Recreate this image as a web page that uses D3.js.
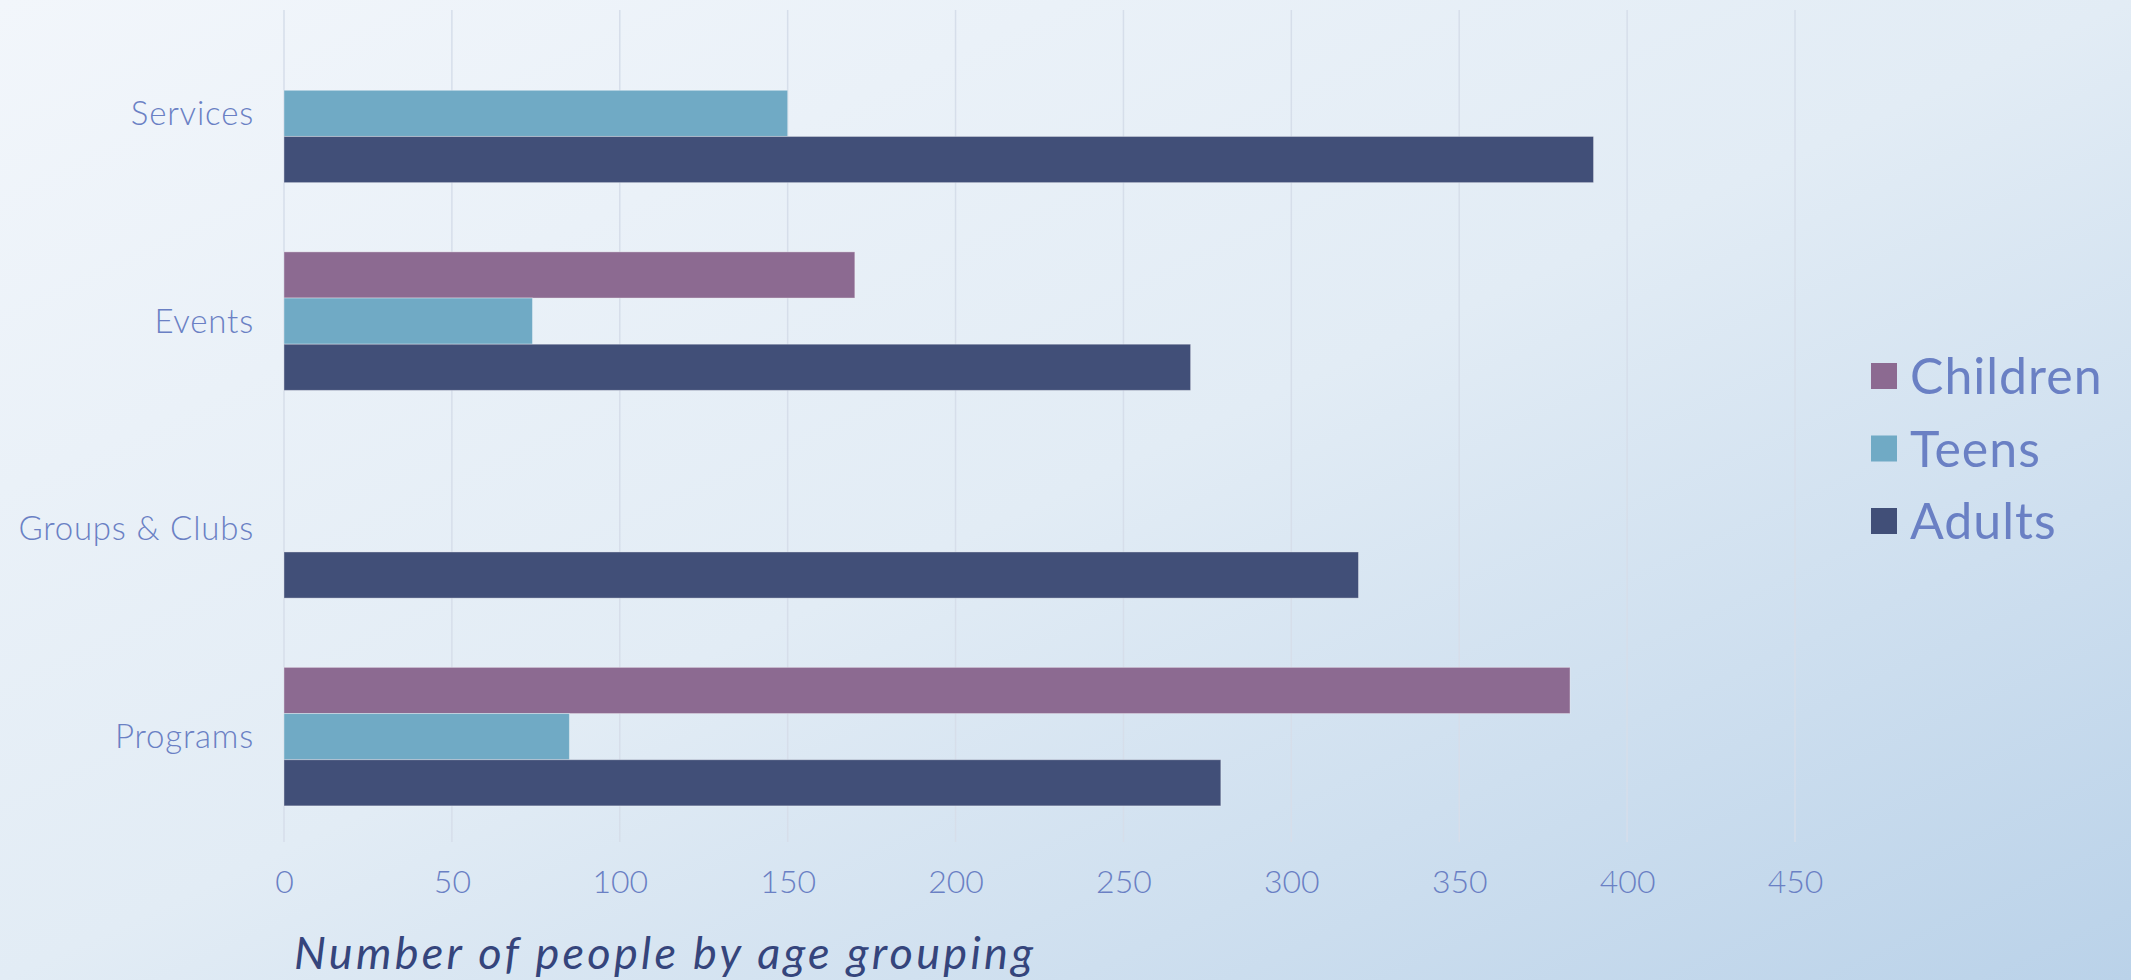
<!DOCTYPE html>
<html><head><meta charset="utf-8">
<script src="https://cdn.jsdelivr.net/npm/d3@7/dist/d3.min.js"></script>
<style>html,body{margin:0;padding:0;overflow:hidden;}svg{display:block;}</style>
</head><body>
<svg id="chart" width="2131" height="980"></svg>
<script>
const categories = ["Services", "Events", "Groups & Clubs", "Programs"];
const seriesNames = ["Children", "Teens", "Adults"];
const children = [0, 170, 0, 383];
const teens = [150, 74, 0, 85];
const adults = [390, 270, 320, 279];
const xTicks = [0, 50, 100, 150, 200, 250, 300, 350, 400, 450];
const axisTitle = "Number of people by age grouping";
const colors = ["#8c6a91", "#70aac5", "#414f78"];

const W = 2131, H = 980;
const svg = d3.select("#chart");
const defs = svg.append("defs");
const grad = defs.append("linearGradient").attr("id", "bg")
  .attr("x1", "0").attr("y1", "0").attr("x2", "1").attr("y2", "1");
grad.append("stop").attr("offset", "0").attr("stop-color", "#f2f6fb");
grad.append("stop").attr("offset", "0.5").attr("stop-color", "#e2ecf5");
grad.append("stop").attr("offset", "1").attr("stop-color", "#bad2e9");
svg.append("rect").attr("width", W).attr("height", H).attr("fill", "url(#bg)");

const font = "'Lato', 'Open Sans', sans-serif";
const textColor = "#6a80c4";

const x = d3.scaleLinear().domain([0, 450]).range([284, 1795]);
const y = d3.scaleBand().domain(categories).range([9.5, 840.5]).paddingInner(1/3).paddingOuter(1/6);
const ySub = d3.scaleBand().domain(seriesNames).range([0, y.bandwidth()]);

// gridlines
svg.append("g").selectAll("line").data(xTicks).join("line")
  .attr("x1", d => x(d)).attr("x2", d => x(d))
  .attr("y1", 10).attr("y2", 842)
  .attr("stroke", "#d6deea").attr("stroke-width", 1.5);

// bars
const values = [children, teens, adults];
const rows = [];
categories.forEach((c, i) => seriesNames.forEach((s, j) => rows.push({c, s, v: values[j][i], j})));
svg.append("g").selectAll("rect").data(rows.filter(d => d.v > 0)).join("rect")
  .attr("x", x(0)).attr("y", d => y(d.c) + ySub(d.s))
  .attr("width", d => x(d.v) - x(0)).attr("height", ySub.bandwidth())
  .attr("fill", d => colors[d.j])
  .attr("stroke", "#ffffff").attr("stroke-opacity", 0.35).attr("stroke-width", 1);

// x axis
const xAxis = d3.axisBottom(x).tickValues(xTicks).tickSize(0).tickPadding(0);
const gx = svg.append("g").attr("transform", "translate(0,893)").call(xAxis);
gx.select(".domain").remove();
gx.selectAll("text").attr("dy", 0).attr("fill", textColor)
  .style("font-family", font).style("font-size", "32px").style("font-weight", 300);

// y axis
const yAxis = d3.axisLeft(y).tickSize(0).tickPadding(0);
const gy = svg.append("g").attr("transform", "translate(254,0)").call(yAxis);
gy.select(".domain").remove();
gy.selectAll("text").attr("dy", "0.35em").attr("fill", textColor)
  .style("font-family", font).style("font-size", "33px").style("font-weight", 300)
  .style("letter-spacing", "0.8px");

// axis title
svg.append("text").attr("x", 294).attr("y", 969).text(axisTitle)
  .attr("textLength", 739).attr("lengthAdjust", "spacing")
  .attr("fill", "#35457c").style("font-family", font).style("font-size", "45px")
  .style("font-style", "italic").style("font-weight", 400);

// legend
const legend = svg.append("g").selectAll("g").data(seriesNames).join("g")
  .attr("transform", (d, i) => `translate(1871,${376 + i * 72.5})`);
legend.append("rect").attr("x", 0).attr("y", -13).attr("width", 26).attr("height", 26)
  .attr("fill", (d, i) => colors[i]);
legend.append("text").attr("x", 39).attr("y", 0).attr("dy", "0.36em").text(d => d)
  .attr("fill", textColor).style("font-family", font).style("font-size", "50px")
  .style("font-weight", 400).style("letter-spacing", "1px");
</script>
</body></html>
